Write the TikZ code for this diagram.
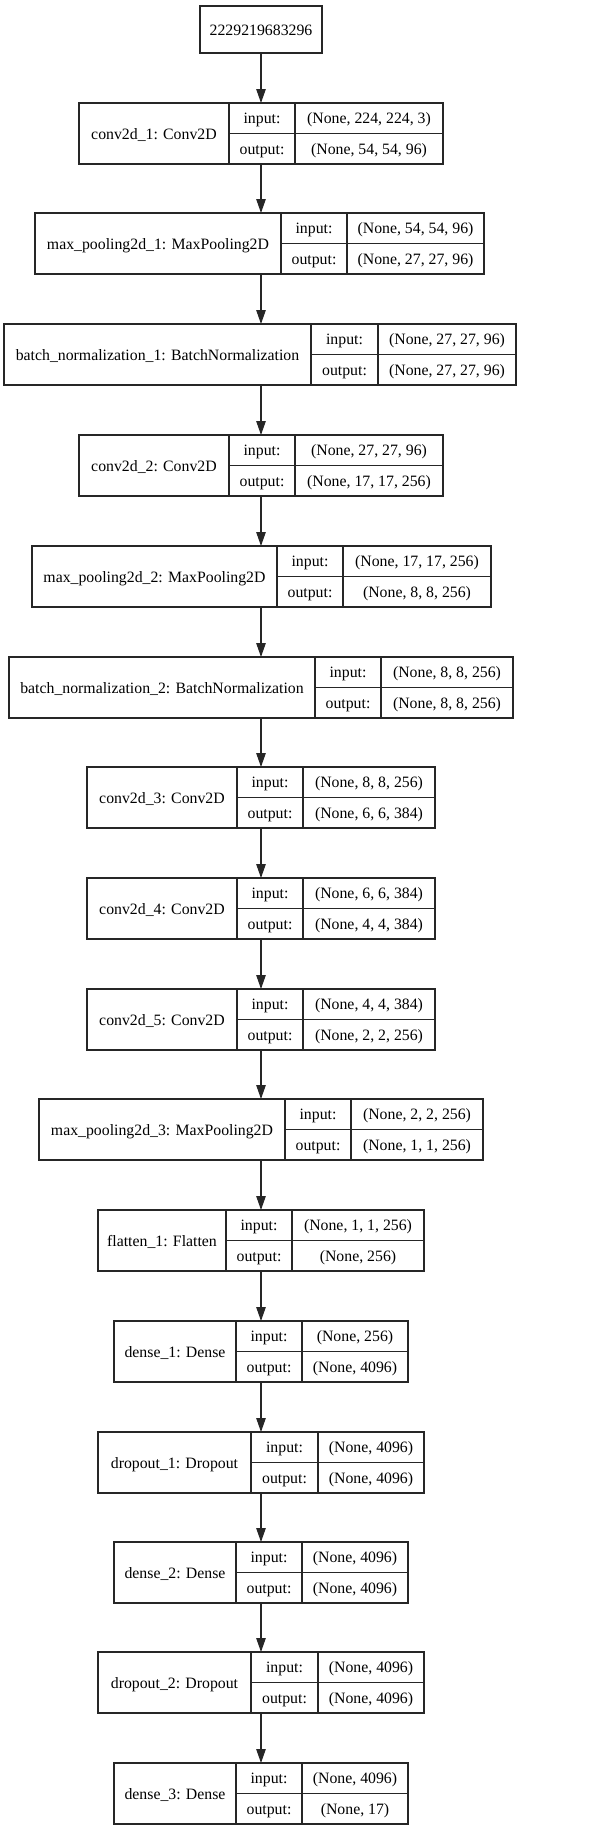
\documentclass[tikz,border=0pt]{standalone}
\usepackage{fontspec}
\setmainfont{Liberation Serif}
\usetikzlibrary{arrows.meta}
\tikzset{
  ln/.style={line width=1.1pt, draw=black!85},
  boxnode/.style={ln, rectangle, anchor=north west, inner sep=0pt, outer sep=0pt},
  txt/.style={anchor=base, inner sep=0pt, font=\fontsize{15.8}{18}\selectfont},
  arr/.style={ln, -{Triangle[length=14pt,width=9.5pt]}},
}
% #1 id, #2 top, #3 x0, #4 x1, #5 x2, #6 x3, #7 label, #8 in, #9 out
\newcommand\kerasbox[9]{%
  \node[boxnode, minimum width={(#6-#3)*1pt}, minimum height=61pt] (#1) at (#3,#2) {};
  \draw[ln] (#4,#2) -- (#4,#2+61);
  \draw[ln] (#5,#2) -- (#5,#2+61);
  \draw[ln] (#4,#2+30.5) -- (#6,#2+30.5);
  \node[txt] (#1l) at ({(#3+#4)/2},{#2+36}) {#7};
  \node[txt] (#1i) at ({(#4+#5)/2},{#2+20.5}) {input:};
  \node[txt] (#1o) at ({(#4+#5)/2},{#2+51}) {output:};
  \node[txt] (#1a) at ({(#5+#6)/2},{#2+20.5}) {#8};
  \node[txt] (#1b) at ({(#5+#6)/2},{#2+51}) {#9};
}
\begin{document}
\begin{tikzpicture}[x=1pt,y=-1pt]
\useasboundingbox (0,0) rectangle (591,1831);
\node[boxnode, minimum width=122pt, minimum height=47pt] (top) at (200,6) {};
\node[txt] (topl) at (261,35) {2229219683296};
\kerasbox{c1}{103}{79}{229}{295}{443}{conv2d\_1: Conv2D}{(None, 224, 224, 3)}{(None, 54, 54, 96)}
\kerasbox{m1}{213}{35}{281}{347}{484}{max\_pooling2d\_1: MaxPooling2D}{(None, 54, 54, 96)}{(None, 27, 27, 96)}
\kerasbox{b1}{324}{4}{311}{378}{516}{batch\_normalization\_1: BatchNormalization}{(None, 27, 27, 96)}{(None, 27, 27, 96)}
\kerasbox{c2}{435}{79}{229}{295}{443}{conv2d\_2: Conv2D}{(None, 27, 27, 96)}{(None, 17, 17, 256)}
\kerasbox{m2}{546}{32}{277}{343}{491}{max\_pooling2d\_2: MaxPooling2D}{(None, 17, 17, 256)}{(None, 8, 8, 256)}
\kerasbox{b2}{657}{9}{315}{381}{513}{batch\_normalization\_2: BatchNormalization}{(None, 8, 8, 256)}{(None, 8, 8, 256)}
\kerasbox{c3}{767}{87}{237}{303}{435}{conv2d\_3: Conv2D}{(None, 8, 8, 256)}{(None, 6, 6, 384)}
\kerasbox{c4}{878}{87}{237}{303}{435}{conv2d\_4: Conv2D}{(None, 6, 6, 384)}{(None, 4, 4, 384)}
\kerasbox{c5}{989}{87}{237}{303}{435}{conv2d\_5: Conv2D}{(None, 4, 4, 384)}{(None, 2, 2, 256)}
\kerasbox{m3}{1099}{39}{285}{351}{483}{max\_pooling2d\_3: MaxPooling2D}{(None, 2, 2, 256)}{(None, 1, 1, 256)}
\kerasbox{f1}{1210}{98}{226}{292}{424}{flatten\_1: Flatten}{(None, 1, 1, 256)}{(None, 256)}
\kerasbox{d1}{1321}{114}{236}{302}{408}{dense\_1: Dense}{(None, 256)}{(None, 4096)}
\kerasbox{o1}{1432}{98}{251}{318}{424}{dropout\_1: Dropout}{(None, 4096)}{(None, 4096)}
\kerasbox{d2}{1542}{114}{236}{302}{408}{dense\_2: Dense}{(None, 4096)}{(None, 4096)}
\kerasbox{o2}{1652}{98}{251}{318}{424}{dropout\_2: Dropout}{(None, 4096)}{(None, 4096)}
\kerasbox{d3}{1763}{114}{236}{302}{408}{dense\_3: Dense}{(None, 4096)}{(None, 17)}
\draw[arr] (top.south) -- (c1.north -| top.south);
\foreach \a/\b in {c1/m1,m1/b1,b1/c2,c2/m2,m2/b2,b2/c3,c3/c4,c4/c5,c5/m3,m3/f1,f1/d1,d1/o1,o1/d2,d2/o2,o2/d3}
  \draw[arr] (\a.south -| top.south) -- (\b.north -| top.south);
\end{tikzpicture}
\end{document}
